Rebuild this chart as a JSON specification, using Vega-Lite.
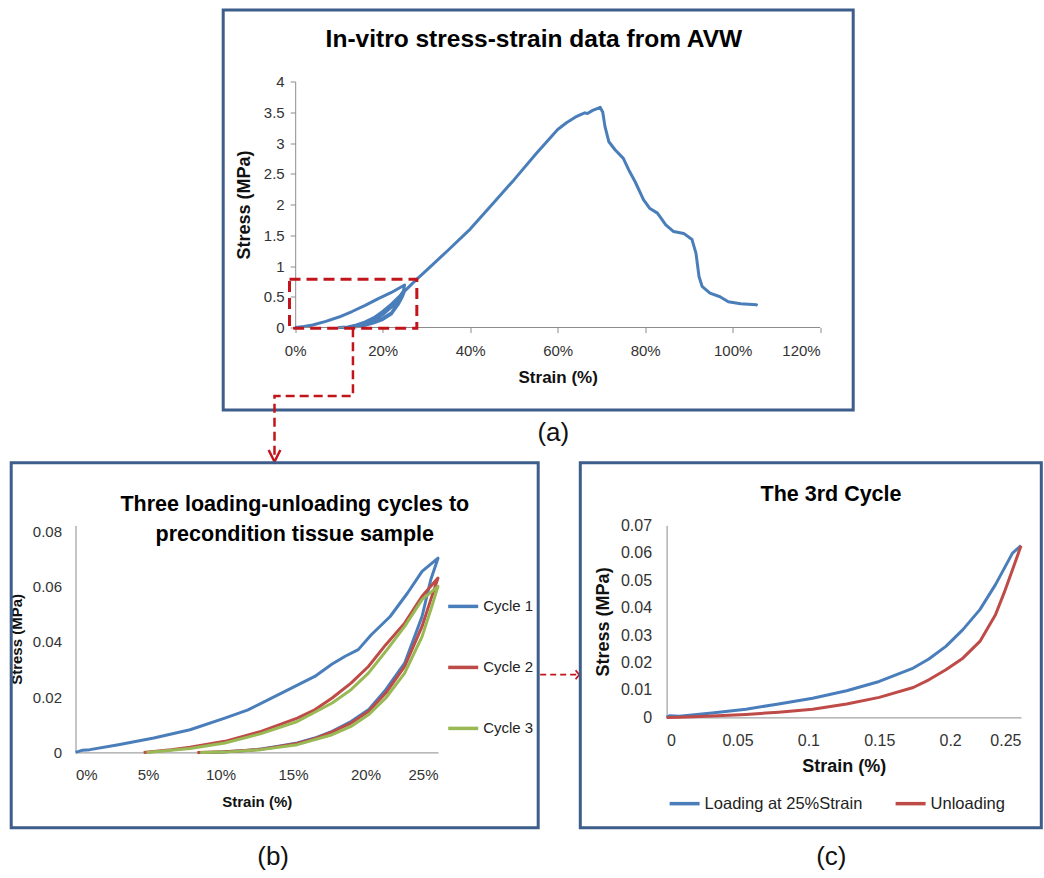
{
  "$schema": "https://vega.github.io/schema/vega-lite/v6.json",
  "background": "white",
  "padding": {"left": 8.5, "top": 8.5, "right": 2, "bottom": 2},
  "config": {
    "view": {"stroke": null},
    "font": "Liberation Sans",
    "axis": {
      "grid": false,
      "domainColor": "#8c8c8c",
      "domainWidth": 1,
      "tickColor": "#8c8c8c",
      "labelColor": "#333333",
      "labelFont": "Liberation Sans Narrow, Liberation Sans",
      "titleFont": "Liberation Sans",
      "titleColor": "#111111",
      "titleFontWeight": "bold"
    },
    "legend": {
      "labelFont": "Liberation Sans Narrow, Liberation Sans",
      "labelColor": "#222222",
      "labelLimit": 400,
      "symbolType": "stroke",
      "symbolSize": 900,
      "symbolStrokeWidth": 3.5,
      "padding": 0
    },
    "text": {"font": "Liberation Sans", "color": "#000000", "align": "center", "baseline": "middle"}
  },
  "datasets": {
    "avw": [
      {"step": 0, "strain": 0, "stress": 0},
      {"step": 1, "strain": 0.02, "stress": 0.015},
      {"step": 2, "strain": 0.04, "stress": 0.04},
      {"step": 3, "strain": 0.07, "stress": 0.1},
      {"step": 4, "strain": 0.1, "stress": 0.17},
      {"step": 5, "strain": 0.13, "stress": 0.26},
      {"step": 6, "strain": 0.16, "stress": 0.36},
      {"step": 7, "strain": 0.19, "stress": 0.47},
      {"step": 8, "strain": 0.22, "stress": 0.57},
      {"step": 9, "strain": 0.25, "stress": 0.69},
      {"step": 10, "strain": 0.247, "stress": 0.58},
      {"step": 11, "strain": 0.24, "stress": 0.45},
      {"step": 12, "strain": 0.23, "stress": 0.32},
      {"step": 13, "strain": 0.22, "stress": 0.23},
      {"step": 14, "strain": 0.2, "stress": 0.15},
      {"step": 15, "strain": 0.18, "stress": 0.08},
      {"step": 16, "strain": 0.16, "stress": 0.04},
      {"step": 17, "strain": 0.14, "stress": 0.015},
      {"step": 18, "strain": 0.12, "stress": 0.003},
      {"step": 19, "strain": 0.1, "stress": 0},
      {"step": 20, "strain": 0.12, "stress": 0.008},
      {"step": 21, "strain": 0.14, "stress": 0.03},
      {"step": 22, "strain": 0.16, "stress": 0.07},
      {"step": 23, "strain": 0.18, "stress": 0.14},
      {"step": 24, "strain": 0.2, "stress": 0.24},
      {"step": 25, "strain": 0.22, "stress": 0.36},
      {"step": 26, "strain": 0.24, "stress": 0.52},
      {"step": 27, "strain": 0.25, "stress": 0.62},
      {"step": 28, "strain": 0.245, "stress": 0.54},
      {"step": 29, "strain": 0.235, "stress": 0.4},
      {"step": 30, "strain": 0.22, "stress": 0.24},
      {"step": 31, "strain": 0.2, "stress": 0.15},
      {"step": 32, "strain": 0.18, "stress": 0.09},
      {"step": 33, "strain": 0.16, "stress": 0.045},
      {"step": 34, "strain": 0.14, "stress": 0.018},
      {"step": 35, "strain": 0.12, "stress": 0.004},
      {"step": 36, "strain": 0.1, "stress": 0},
      {"step": 37, "strain": 0.12, "stress": 0.006},
      {"step": 38, "strain": 0.14, "stress": 0.025},
      {"step": 39, "strain": 0.16, "stress": 0.06},
      {"step": 40, "strain": 0.18, "stress": 0.12},
      {"step": 41, "strain": 0.2, "stress": 0.21},
      {"step": 42, "strain": 0.22, "stress": 0.33},
      {"step": 43, "strain": 0.24, "stress": 0.48},
      {"step": 44, "strain": 0.25, "stress": 0.59},
      {"step": 45, "strain": 0.245, "stress": 0.5},
      {"step": 46, "strain": 0.235, "stress": 0.37},
      {"step": 47, "strain": 0.22, "stress": 0.22},
      {"step": 48, "strain": 0.2, "stress": 0.13},
      {"step": 49, "strain": 0.18, "stress": 0.075},
      {"step": 50, "strain": 0.16, "stress": 0.035},
      {"step": 51, "strain": 0.14, "stress": 0.012},
      {"step": 52, "strain": 0.12, "stress": 0.002},
      {"step": 53, "strain": 0.1, "stress": 0},
      {"step": 54, "strain": 0.12, "stress": 0.01},
      {"step": 55, "strain": 0.14, "stress": 0.04},
      {"step": 56, "strain": 0.16, "stress": 0.09},
      {"step": 57, "strain": 0.18, "stress": 0.16},
      {"step": 58, "strain": 0.2, "stress": 0.26},
      {"step": 59, "strain": 0.22, "stress": 0.38},
      {"step": 60, "strain": 0.24, "stress": 0.52},
      {"step": 61, "strain": 0.26, "stress": 0.66},
      {"step": 62, "strain": 0.28, "stress": 0.8},
      {"step": 63, "strain": 0.3, "stress": 0.93},
      {"step": 64, "strain": 0.35, "stress": 1.26},
      {"step": 65, "strain": 0.4, "stress": 1.6},
      {"step": 66, "strain": 0.45, "stress": 2.0},
      {"step": 67, "strain": 0.5, "stress": 2.4},
      {"step": 68, "strain": 0.55, "stress": 2.82},
      {"step": 69, "strain": 0.6, "stress": 3.22},
      {"step": 70, "strain": 0.62, "stress": 3.33},
      {"step": 71, "strain": 0.64, "stress": 3.42},
      {"step": 72, "strain": 0.655, "stress": 3.47},
      {"step": 73, "strain": 0.662, "stress": 3.49},
      {"step": 74, "strain": 0.668, "stress": 3.48},
      {"step": 75, "strain": 0.68, "stress": 3.53},
      {"step": 76, "strain": 0.69, "stress": 3.56},
      {"step": 77, "strain": 0.697, "stress": 3.58},
      {"step": 78, "strain": 0.703, "stress": 3.5},
      {"step": 79, "strain": 0.708, "stress": 3.27},
      {"step": 80, "strain": 0.717, "stress": 3.02},
      {"step": 81, "strain": 0.731, "stress": 2.89},
      {"step": 82, "strain": 0.75, "stress": 2.75},
      {"step": 83, "strain": 0.764, "stress": 2.54},
      {"step": 84, "strain": 0.777, "stress": 2.37},
      {"step": 85, "strain": 0.796, "stress": 2.08},
      {"step": 86, "strain": 0.81, "stress": 1.94},
      {"step": 87, "strain": 0.828, "stress": 1.86},
      {"step": 88, "strain": 0.847, "stress": 1.67},
      {"step": 89, "strain": 0.865, "stress": 1.56},
      {"step": 90, "strain": 0.888, "stress": 1.53},
      {"step": 91, "strain": 0.907, "stress": 1.43},
      {"step": 92, "strain": 0.916, "stress": 1.21},
      {"step": 93, "strain": 0.923, "stress": 0.83},
      {"step": 94, "strain": 0.93, "stress": 0.67},
      {"step": 95, "strain": 0.948, "stress": 0.56},
      {"step": 96, "strain": 0.971, "stress": 0.5},
      {"step": 97, "strain": 0.99, "stress": 0.42},
      {"step": 98, "strain": 1.018, "stress": 0.385},
      {"step": 99, "strain": 1.054, "stress": 0.37},
      {"step": 100, "strain": 1.057, "stress": 0.36}
    ],
    "avwLink": [
      {"step": 0, "strain": 0.132, "stress": -0.013},
      {"step": 1, "strain": 0.132, "stress": -1.114},
      {"step": 2, "strain": -0.0473, "stress": -1.114},
      {"step": 3, "strain": -0.0473, "stress": -2.16}
    ],
    "cycles": [
      {"cycle": "Cycle 1", "step": 0, "strain": 0, "stress": 0},
      {"cycle": "Cycle 1", "step": 1, "strain": 0.005, "stress": 0.0008},
      {"cycle": "Cycle 1", "step": 2, "strain": 0.01, "stress": 0.001},
      {"cycle": "Cycle 1", "step": 3, "strain": 0.0296, "stress": 0.0028},
      {"cycle": "Cycle 1", "step": 4, "strain": 0.054, "stress": 0.0052},
      {"cycle": "Cycle 1", "step": 5, "strain": 0.079, "stress": 0.0082},
      {"cycle": "Cycle 1", "step": 6, "strain": 0.103, "stress": 0.0124},
      {"cycle": "Cycle 1", "step": 7, "strain": 0.119, "stress": 0.0154},
      {"cycle": "Cycle 1", "step": 8, "strain": 0.14, "stress": 0.0209},
      {"cycle": "Cycle 1", "step": 9, "strain": 0.165, "stress": 0.0275},
      {"cycle": "Cycle 1", "step": 10, "strain": 0.177, "stress": 0.032},
      {"cycle": "Cycle 1", "step": 11, "strain": 0.186, "stress": 0.0348},
      {"cycle": "Cycle 1", "step": 12, "strain": 0.195, "stress": 0.0372},
      {"cycle": "Cycle 1", "step": 13, "strain": 0.204, "stress": 0.0426},
      {"cycle": "Cycle 1", "step": 14, "strain": 0.217, "stress": 0.0492},
      {"cycle": "Cycle 1", "step": 15, "strain": 0.229, "stress": 0.0577},
      {"cycle": "Cycle 1", "step": 16, "strain": 0.239, "stress": 0.0655},
      {"cycle": "Cycle 1", "step": 17, "strain": 0.25, "stress": 0.0703},
      {"cycle": "Cycle 1", "step": 18, "strain": 0.245, "stress": 0.0625},
      {"cycle": "Cycle 1", "step": 19, "strain": 0.239, "stress": 0.0492},
      {"cycle": "Cycle 1", "step": 20, "strain": 0.227, "stress": 0.0323},
      {"cycle": "Cycle 1", "step": 21, "strain": 0.214, "stress": 0.0227},
      {"cycle": "Cycle 1", "step": 22, "strain": 0.202, "stress": 0.0154},
      {"cycle": "Cycle 1", "step": 23, "strain": 0.19, "stress": 0.0112},
      {"cycle": "Cycle 1", "step": 24, "strain": 0.177, "stress": 0.0076},
      {"cycle": "Cycle 1", "step": 25, "strain": 0.165, "stress": 0.0052},
      {"cycle": "Cycle 1", "step": 26, "strain": 0.153, "stress": 0.0034},
      {"cycle": "Cycle 1", "step": 27, "strain": 0.14, "stress": 0.0022},
      {"cycle": "Cycle 1", "step": 28, "strain": 0.128, "stress": 0.0012},
      {"cycle": "Cycle 1", "step": 29, "strain": 0.116, "stress": 0.0006},
      {"cycle": "Cycle 1", "step": 30, "strain": 0.103, "stress": 0.0002},
      {"cycle": "Cycle 1", "step": 31, "strain": 0.094, "stress": 0},
      {"cycle": "Cycle 2", "step": 0, "strain": 0.047, "stress": 0},
      {"cycle": "Cycle 2", "step": 1, "strain": 0.066, "stress": 0.001},
      {"cycle": "Cycle 2", "step": 2, "strain": 0.079, "stress": 0.0019},
      {"cycle": "Cycle 2", "step": 3, "strain": 0.103, "stress": 0.004},
      {"cycle": "Cycle 2", "step": 4, "strain": 0.128, "stress": 0.0076},
      {"cycle": "Cycle 2", "step": 5, "strain": 0.153, "stress": 0.0124},
      {"cycle": "Cycle 2", "step": 6, "strain": 0.165, "stress": 0.0154},
      {"cycle": "Cycle 2", "step": 7, "strain": 0.177, "stress": 0.0197},
      {"cycle": "Cycle 2", "step": 8, "strain": 0.19, "stress": 0.0251},
      {"cycle": "Cycle 2", "step": 9, "strain": 0.202, "stress": 0.0311},
      {"cycle": "Cycle 2", "step": 10, "strain": 0.214, "stress": 0.039},
      {"cycle": "Cycle 2", "step": 11, "strain": 0.227, "stress": 0.0468},
      {"cycle": "Cycle 2", "step": 12, "strain": 0.239, "stress": 0.0565},
      {"cycle": "Cycle 2", "step": 13, "strain": 0.25, "stress": 0.0631},
      {"cycle": "Cycle 2", "step": 14, "strain": 0.245, "stress": 0.0553},
      {"cycle": "Cycle 2", "step": 15, "strain": 0.239, "stress": 0.0456},
      {"cycle": "Cycle 2", "step": 16, "strain": 0.227, "stress": 0.0311},
      {"cycle": "Cycle 2", "step": 17, "strain": 0.214, "stress": 0.0215},
      {"cycle": "Cycle 2", "step": 18, "strain": 0.202, "stress": 0.0148},
      {"cycle": "Cycle 2", "step": 19, "strain": 0.19, "stress": 0.0106},
      {"cycle": "Cycle 2", "step": 20, "strain": 0.177, "stress": 0.0074},
      {"cycle": "Cycle 2", "step": 21, "strain": 0.165, "stress": 0.005},
      {"cycle": "Cycle 2", "step": 22, "strain": 0.153, "stress": 0.0032},
      {"cycle": "Cycle 2", "step": 23, "strain": 0.128, "stress": 0.0011},
      {"cycle": "Cycle 2", "step": 24, "strain": 0.103, "stress": 0.0002},
      {"cycle": "Cycle 2", "step": 25, "strain": 0.084, "stress": 0},
      {"cycle": "Cycle 3", "step": 0, "strain": 0.049, "stress": 0},
      {"cycle": "Cycle 3", "step": 1, "strain": 0.079, "stress": 0.0014},
      {"cycle": "Cycle 3", "step": 2, "strain": 0.103, "stress": 0.0034},
      {"cycle": "Cycle 3", "step": 3, "strain": 0.128, "stress": 0.0068},
      {"cycle": "Cycle 3", "step": 4, "strain": 0.153, "stress": 0.0112},
      {"cycle": "Cycle 3", "step": 5, "strain": 0.177, "stress": 0.0179},
      {"cycle": "Cycle 3", "step": 6, "strain": 0.19, "stress": 0.0227},
      {"cycle": "Cycle 3", "step": 7, "strain": 0.202, "stress": 0.0287},
      {"cycle": "Cycle 3", "step": 8, "strain": 0.214, "stress": 0.0366},
      {"cycle": "Cycle 3", "step": 9, "strain": 0.227, "stress": 0.0456},
      {"cycle": "Cycle 3", "step": 10, "strain": 0.239, "stress": 0.0553},
      {"cycle": "Cycle 3", "step": 11, "strain": 0.25, "stress": 0.0601},
      {"cycle": "Cycle 3", "step": 12, "strain": 0.245, "stress": 0.0516},
      {"cycle": "Cycle 3", "step": 13, "strain": 0.239, "stress": 0.0419},
      {"cycle": "Cycle 3", "step": 14, "strain": 0.227, "stress": 0.0287},
      {"cycle": "Cycle 3", "step": 15, "strain": 0.214, "stress": 0.0197},
      {"cycle": "Cycle 3", "step": 16, "strain": 0.202, "stress": 0.0136},
      {"cycle": "Cycle 3", "step": 17, "strain": 0.19, "stress": 0.0094},
      {"cycle": "Cycle 3", "step": 18, "strain": 0.177, "stress": 0.0064},
      {"cycle": "Cycle 3", "step": 19, "strain": 0.153, "stress": 0.0028},
      {"cycle": "Cycle 3", "step": 20, "strain": 0.128, "stress": 0.001},
      {"cycle": "Cycle 3", "step": 21, "strain": 0.103, "stress": 0.0001},
      {"cycle": "Cycle 3", "step": 22, "strain": 0.086, "stress": 0}
    ],
    "cycleLink": [
      {"step": 0, "strain": 0.32048, "stress": 0.02813},
      {"step": 1, "strain": 0.3462, "stress": 0.02813}
    ],
    "third": [
      {"phase": "Loading at 25%Strain", "step": 0, "strain": 0, "stress": 0},
      {"phase": "Loading at 25%Strain", "step": 1, "strain": 0.002, "stress": 0.0006},
      {"phase": "Loading at 25%Strain", "step": 2, "strain": 0.009, "stress": 0.0004},
      {"phase": "Loading at 25%Strain", "step": 3, "strain": 0.032, "stress": 0.0016},
      {"phase": "Loading at 25%Strain", "step": 4, "strain": 0.056, "stress": 0.003},
      {"phase": "Loading at 25%Strain", "step": 5, "strain": 0.079, "stress": 0.0049},
      {"phase": "Loading at 25%Strain", "step": 6, "strain": 0.103, "stress": 0.007},
      {"phase": "Loading at 25%Strain", "step": 7, "strain": 0.127, "stress": 0.0097},
      {"phase": "Loading at 25%Strain", "step": 8, "strain": 0.15, "stress": 0.0131},
      {"phase": "Loading at 25%Strain", "step": 9, "strain": 0.174, "stress": 0.018},
      {"phase": "Loading at 25%Strain", "step": 10, "strain": 0.185, "stress": 0.0213},
      {"phase": "Loading at 25%Strain", "step": 11, "strain": 0.197, "stress": 0.0259},
      {"phase": "Loading at 25%Strain", "step": 12, "strain": 0.209, "stress": 0.032},
      {"phase": "Loading at 25%Strain", "step": 13, "strain": 0.221, "stress": 0.0393},
      {"phase": "Loading at 25%Strain", "step": 14, "strain": 0.232, "stress": 0.0484},
      {"phase": "Loading at 25%Strain", "step": 15, "strain": 0.244, "stress": 0.0599},
      {"phase": "Loading at 25%Strain", "step": 16, "strain": 0.25, "stress": 0.0626},
      {"phase": "Unloading", "step": 0, "strain": 0.25, "stress": 0.0626},
      {"phase": "Unloading", "step": 1, "strain": 0.244, "stress": 0.0538},
      {"phase": "Unloading", "step": 2, "strain": 0.238, "stress": 0.0453},
      {"phase": "Unloading", "step": 3, "strain": 0.232, "stress": 0.0374},
      {"phase": "Unloading", "step": 4, "strain": 0.221, "stress": 0.0277},
      {"phase": "Unloading", "step": 5, "strain": 0.209, "stress": 0.0216},
      {"phase": "Unloading", "step": 6, "strain": 0.197, "stress": 0.0174},
      {"phase": "Unloading", "step": 7, "strain": 0.185, "stress": 0.0137},
      {"phase": "Unloading", "step": 8, "strain": 0.174, "stress": 0.0109},
      {"phase": "Unloading", "step": 9, "strain": 0.15, "stress": 0.0073},
      {"phase": "Unloading", "step": 10, "strain": 0.127, "stress": 0.0049},
      {"phase": "Unloading", "step": 11, "strain": 0.103, "stress": 0.003},
      {"phase": "Unloading", "step": 12, "strain": 0.079, "stress": 0.0019},
      {"phase": "Unloading", "step": 13, "strain": 0.056, "stress": 0.0011},
      {"phase": "Unloading", "step": 14, "strain": 0.032, "stress": 0.0005},
      {"phase": "Unloading", "step": 15, "strain": 0.009, "stress": 0.0001},
      {"phase": "Unloading", "step": 16, "strain": 0, "stress": 0}
    ]
  },
  "vconcat": [
    {
      "width": 744.7,
      "height": 246,
      "resolve": {"axis": {"x": "independent", "y": "independent"}},
      "layer": [
        {
          "data": {"name": "avw"},
          "mark": {"type": "line", "color": "#4a7ebb", "strokeWidth": 3, "strokeJoin": "round"},
          "encoding": {
            "x": {"field": "strain", "type": "quantitative", "scale": {"domain": [-0.50217, 1.2], "nice": false, "zero": false},
              "axis": {"values": [0, 0.2, 0.4, 0.6, 0.8, 1.0, 1.2], "format": ".0%", "domain": false, "tickSize": 5, "labelPadding": 11, "labelFontSize": 15, "title": "Strain (%)", "titleFontSize": 17, "titlePadding": 11, "titleX": 482.2}},
            "y": {"field": "stress", "type": "quantitative", "scale": {"domain": [0, 4], "nice": false},
              "axis": {"values": [0, 0.5, 1, 1.5, 2, 2.5, 3, 3.5, 4], "format": ".1~f", "offset": -219.7, "tickSize": 5, "labelPadding": 6, "labelFontSize": 15, "title": "Stress (MPa)", "titleFontSize": 18, "titlePadding": 10}},
            "order": {"field": "step", "type": "quantitative"}
          }
        },
        {
          "description": "strain axis line from 0% to 120%",
          "data": {"values": [{}]},
          "mark": {"type": "rule", "color": "#8c8c8c", "strokeWidth": 1},
          "encoding": {
            "x": {"datum": 0, "type": "quantitative", "scale": {"domain": [-0.50217, 1.2], "nice": false, "zero": false}, "axis": null},
            "x2": {"datum": 1.2},
            "y": {"datum": 0, "type": "quantitative", "scale": {"domain": [0, 4], "nice": false}, "axis": null}
          }
        },
        {
          "description": "panel frame",
          "data": {"values": [{}]},
          "mark": {"type": "rect", "fill": null, "stroke": "#3d5d8a", "strokeWidth": 3},
          "encoding": {
            "x": {"datum": -0.16457, "type": "quantitative", "scale": {"domain": [-0.50217, 1.2], "nice": false, "zero": false}, "axis": null},
            "x2": {"datum": 1.27543},
            "y": {"datum": -1.3415, "type": "quantitative", "scale": {"domain": [0, 4], "nice": false}, "axis": null},
            "y2": {"datum": 5.1626}
          }
        },
        {
          "description": "panel heading",
          "data": {"values": [{}]},
          "mark": {"type": "text", "text": "In-vitro stress-strain  data from AVW", "fontSize": 24.5, "fontWeight": "bold"},
          "encoding": {
            "x": {"datum": 0.5456, "type": "quantitative", "scale": {"domain": [-0.50217, 1.2], "nice": false, "zero": false}, "axis": null},
            "y": {"datum": 4.675, "type": "quantitative", "scale": {"domain": [0, 4], "nice": false}, "axis": null}
          }
        },
        {
          "description": "dashed zoom box",
          "data": {"values": [{}]},
          "mark": {"type": "rect", "fill": null, "stroke": "#c2141b", "strokeWidth": 3, "strokeDash": [11, 6]},
          "encoding": {
            "x": {"datum": -0.013, "type": "quantitative", "scale": {"domain": [-0.50217, 1.2], "nice": false, "zero": false}, "axis": null},
            "x2": {"datum": 0.278},
            "y": {"datum": -0.013, "type": "quantitative", "scale": {"domain": [0, 4], "nice": false}, "axis": null},
            "y2": {"datum": 0.784}
          }
        },
        {
          "data": {"name": "avwLink"},
          "mark": {"type": "line", "color": "#c2141b", "strokeWidth": 2.5, "strokeDash": [9, 5]},
          "encoding": {
            "x": {"field": "strain", "type": "quantitative", "scale": {"domain": [-0.50217, 1.2], "nice": false, "zero": false}, "axis": null},
            "y": {"field": "stress", "type": "quantitative", "scale": {"domain": [0, 4], "nice": false}, "axis": null},
            "order": {"field": "step", "type": "quantitative"}
          }
        },
        {
          "data": {"values": [{}]},
          "mark": {"type": "point", "shape": "M-0.5,-1L0,0L0.5,-1", "filled": false, "size": 548, "stroke": "#c2141b", "strokeWidth": 2.5, "opacity": 1},
          "encoding": {
            "x": {"datum": -0.0473, "type": "quantitative", "scale": {"domain": [-0.50217, 1.2], "nice": false, "zero": false}, "axis": null},
            "y": {"datum": -2.182, "type": "quantitative", "scale": {"domain": [0, 4], "nice": false}, "axis": null}
          }
        },
        {
          "data": {"values": [{}]},
          "mark": {"type": "text", "text": "(a)", "fontSize": 26, "color": "#111111"},
          "encoding": {
            "x": {"datum": 0.59, "type": "quantitative", "scale": {"domain": [-0.50217, 1.2], "nice": false, "zero": false}, "axis": null},
            "y": {"datum": -1.715, "type": "quantitative", "scale": {"domain": [0, 4], "nice": false}, "axis": null}
          }
        }
      ]
    },
    {
      "hconcat": [
        {
          "width": 362.5,
          "height": 227,
          "resolve": {"axis": {"x": "independent", "y": "independent"}},
          "layer": [
            {
              "data": {"name": "cycles"},
              "mark": {"type": "line", "strokeWidth": 3, "strokeJoin": "round"},
              "encoding": {
                "x": {"field": "strain", "type": "quantitative", "scale": {"domain": [0, 0.25], "nice": false},
                  "axis": {"values": [0, 0.05, 0.1, 0.15, 0.2, 0.25], "format": ".0%", "ticks": false, "tickSize": 0, "labelPadding": 15, "labelFontSize": 15, "title": "Strain (%)", "titleFontSize": 15, "titlePadding": 12}},
                "y": {"field": "stress", "type": "quantitative", "scale": {"domain": [0, 0.082172], "nice": false},
                  "axis": {"values": [0, 0.02, 0.04, 0.06, 0.08], "format": ".2~f", "ticks": false, "tickSize": 0, "labelPadding": 14, "labelFontSize": 15, "title": "Stress (MPa)", "titleFontSize": 15, "titlePadding": 8}},
                "color": {"field": "cycle", "type": "nominal",
                  "scale": {"domain": ["Cycle 1", "Cycle 2", "Cycle 3"], "range": ["#4a7ebb", "#be4b48", "#98b954"]},
                  "legend": {"orient": "none", "legendX": 370.7, "legendY": 64, "title": null, "labelFontSize": 15, "rowPadding": 36, "labelOffset": 3}},
                "order": {"field": "step", "type": "quantitative"}
              }
            },
            {
              "data": {"values": [{}]},
              "mark": {"type": "rect", "fill": null, "stroke": "#3d5d8a", "strokeWidth": 3},
              "encoding": {
                "x": {"datum": -0.04434, "type": "quantitative", "scale": {"domain": [0, 0.25], "nice": false}, "axis": null},
                "x2": {"datum": 0.3191},
                "y": {"datum": -0.02726, "type": "quantitative", "scale": {"domain": [0, 0.082172], "nice": false}, "axis": null},
                "y2": {"datum": 0.10487}
              }
            },
            {
              "data": {"values": [{}]},
              "mark": {"type": "text", "text": "Three loading-unloading cycles to", "fontSize": 21.5, "fontWeight": "bold"},
              "encoding": {
                "x": {"datum": 0.15124, "type": "quantitative", "scale": {"domain": [0, 0.25], "nice": false}, "axis": null},
                "y": {"datum": 0.08967, "type": "quantitative", "scale": {"domain": [0, 0.082172], "nice": false}, "axis": null}
              }
            },
            {
              "data": {"values": [{}]},
              "mark": {"type": "text", "text": "precondition tissue sample", "fontSize": 21.5, "fontWeight": "bold"},
              "encoding": {
                "x": {"datum": 0.15124, "type": "quantitative", "scale": {"domain": [0, 0.25], "nice": false}, "axis": null},
                "y": {"datum": 0.07881, "type": "quantitative", "scale": {"domain": [0, 0.082172], "nice": false}, "axis": null}
              }
            },
            {
              "data": {"name": "cycleLink"},
              "mark": {"type": "line", "color": "#c2141b", "strokeWidth": 1.8, "strokeDash": [6, 4]},
              "encoding": {
                "x": {"field": "strain", "type": "quantitative", "scale": {"domain": [0, 0.25], "nice": false}, "axis": null},
                "y": {"field": "stress", "type": "quantitative", "scale": {"domain": [0, 0.082172], "nice": false}, "axis": null},
                "order": {"field": "step", "type": "quantitative"}
              }
            },
            {
              "data": {"values": [{}]},
              "mark": {"type": "point", "shape": "M-0.8,-1L0,0L-0.8,1", "filled": false, "size": 81, "stroke": "#c2141b", "strokeWidth": 1.8, "opacity": 1},
              "encoding": {
                "x": {"datum": 0.34738, "type": "quantitative", "scale": {"domain": [0, 0.25], "nice": false}, "axis": null},
                "y": {"datum": 0.02813, "type": "quantitative", "scale": {"domain": [0, 0.082172], "nice": false}, "axis": null}
              }
            },
            {
              "data": {"values": [{}]},
              "mark": {"type": "text", "text": "(b)", "fontSize": 26, "color": "#111111"},
              "encoding": {
                "x": {"datum": 0.1363, "type": "quantitative", "scale": {"domain": [0, 0.25], "nice": false}, "axis": null},
                "y": {"datum": -0.03776, "type": "quantitative", "scale": {"domain": [0, 0.082172], "nice": false}, "axis": null}
              }
            }
          ]
        },
        {
          "width": 354.4,
          "height": 192,
          "resolve": {"axis": {"x": "independent", "y": "independent"}},
          "layer": [
            {
              "data": {"name": "third"},
              "mark": {"type": "line", "strokeWidth": 3, "strokeJoin": "round"},
              "encoding": {
                "x": {"field": "strain", "type": "quantitative", "scale": {"domain": [0, 0.25], "nice": false},
                  "axis": {"values": [0, 0.05, 0.1, 0.15, 0.2, 0.25], "format": ".2~f", "ticks": false, "tickSize": 0, "labelPadding": 15, "labelFontSize": 16, "title": "Strain (%)", "titleFont": "Liberation Sans Narrow, Liberation Sans", "titleFontSize": 18, "titlePadding": 9}},
                "y": {"field": "stress", "type": "quantitative", "scale": {"domain": [0, 0.07], "nice": false},
                  "axis": {"values": [0, 0.01, 0.02, 0.03, 0.04, 0.05, 0.06, 0.07], "format": ".2~f", "ticks": false, "tickSize": 0, "labelPadding": 15, "labelFontSize": 16, "title": "Stress (MPa)", "titleFont": "Liberation Sans Narrow, Liberation Sans", "titleFontSize": 18, "titlePadding": 8}},
                "color": {"field": "phase", "type": "nominal",
                  "scale": {"domain": ["Loading at 25%Strain", "Unloading"], "range": ["#4a7ebb", "#be4b48"]},
                  "legend": {"orient": "none", "direction": "horizontal", "legendX": 1, "legendY": 261, "title": null, "labelFontSize": 16.5, "labelLimit": 400, "columnPadding": 26, "labelOffset": 3}},
                "order": {"field": "step", "type": "quantitative"}
              }
            },
            {
              "data": {"values": [{}]},
              "mark": {"type": "rect", "fill": null, "stroke": "#3d5d8a", "strokeWidth": 3},
              "encoding": {
                "x": {"datum": -0.06088, "type": "quantitative", "scale": {"domain": [0, 0.25], "nice": false}, "axis": null},
                "x2": {"datum": 0.26432},
                "y": {"datum": -0.04021, "type": "quantitative", "scale": {"domain": [0, 0.07], "nice": false}, "axis": null},
                "y2": {"datum": 0.09286}
              }
            },
            {
              "data": {"values": [{}]},
              "mark": {"type": "text", "text": "The 3rd Cycle", "fontSize": 21.5, "fontWeight": "bold"},
              "encoding": {
                "x": {"datum": 0.11597, "type": "quantitative", "scale": {"domain": [0, 0.25], "nice": false}, "axis": null},
                "y": {"datum": 0.08119, "type": "quantitative", "scale": {"domain": [0, 0.07], "nice": false}, "axis": null}
              }
            },
            {
              "data": {"values": [{}]},
              "mark": {"type": "text", "text": "(c)", "fontSize": 26, "color": "#111111"},
              "encoding": {
                "x": {"datum": 0.11618, "type": "quantitative", "scale": {"domain": [0, 0.25], "nice": false}, "axis": null},
                "y": {"datum": -0.05079, "type": "quantitative", "scale": {"domain": [0, 0.07], "nice": false}, "axis": null}
              }
            }
          ]
        }
      ],
      "spacing": -4.9,
      "resolve": {"scale": {"color": "independent"}, "legend": {"color": "independent"}}
    }
  ],
  "spacing": -7.1,
  "resolve": {"scale": {"color": "independent"}, "legend": {"color": "independent"}}
}
